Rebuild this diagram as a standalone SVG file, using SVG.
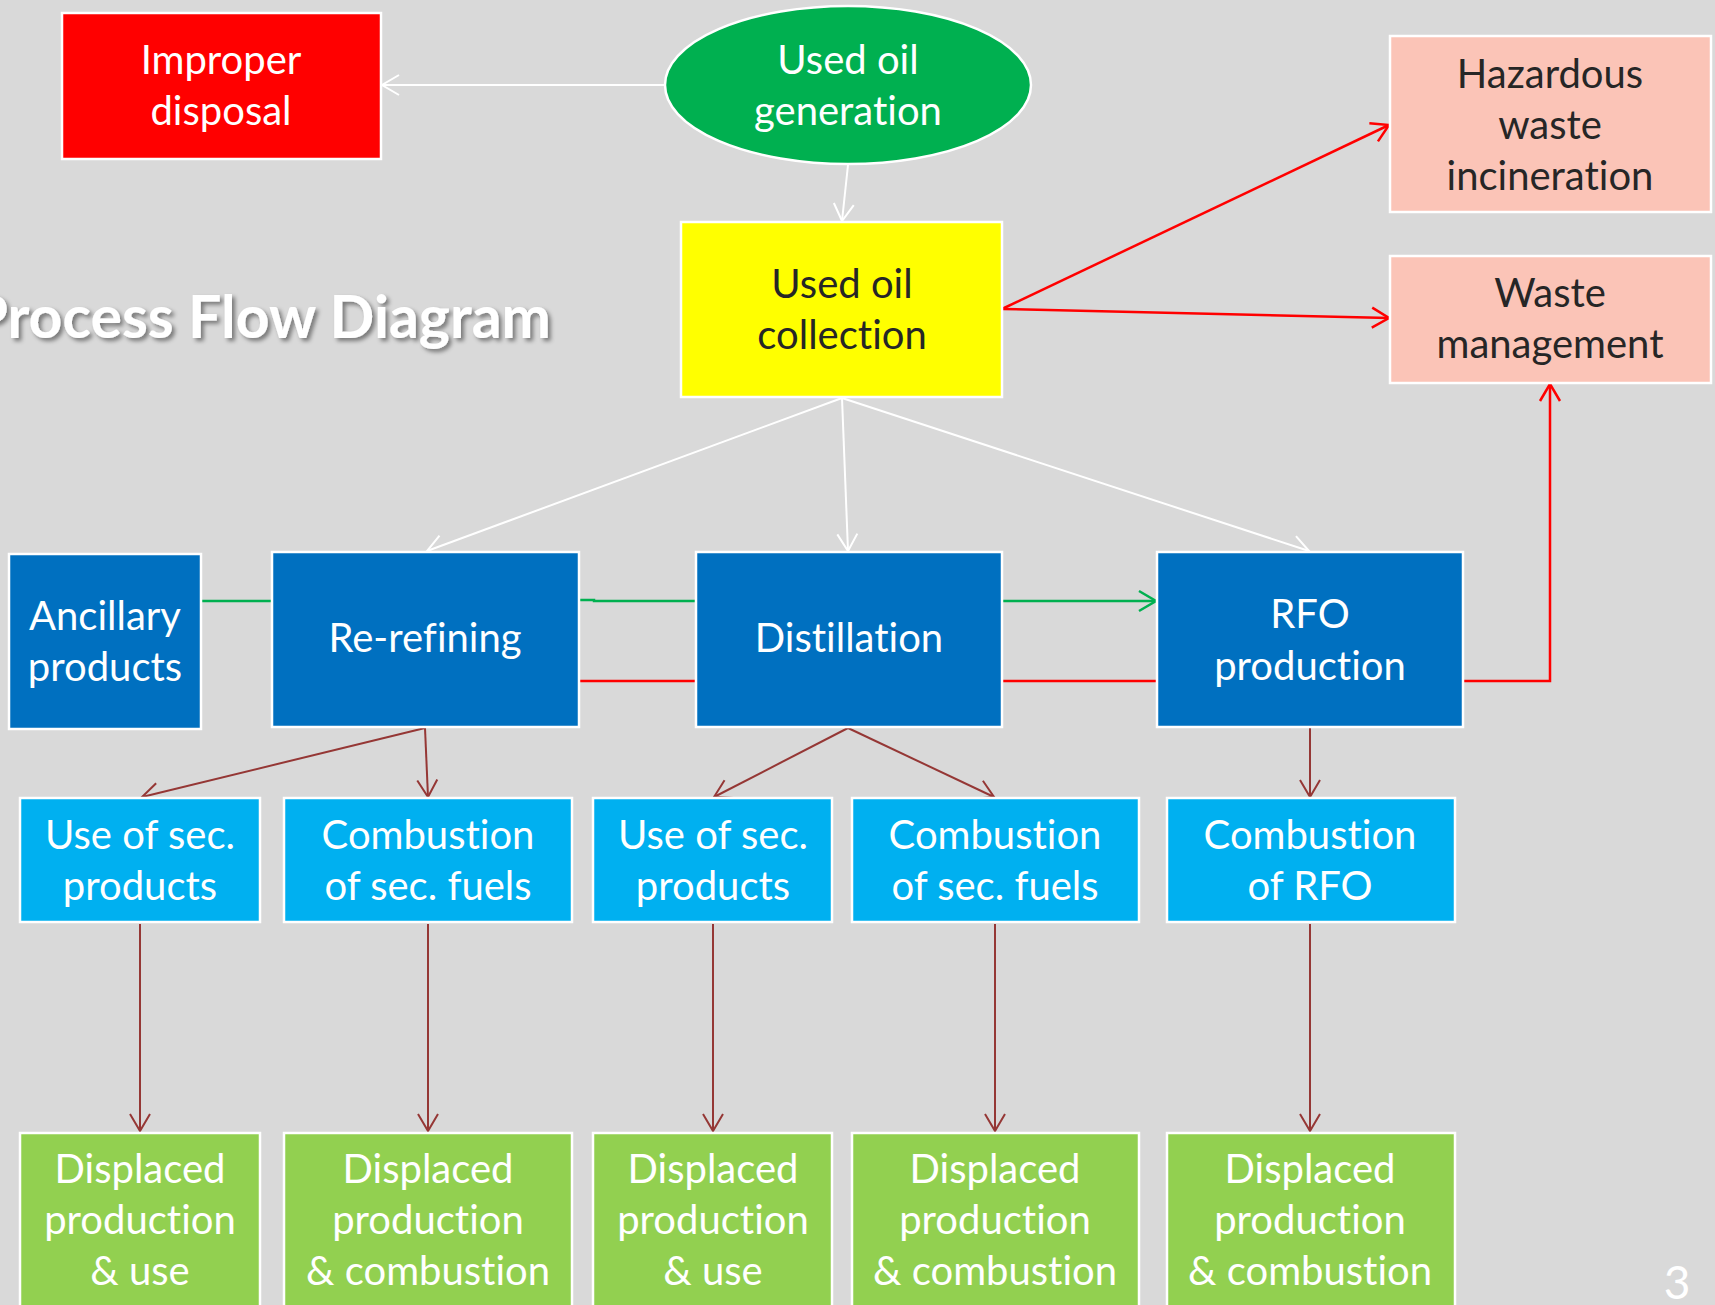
<svg xmlns="http://www.w3.org/2000/svg" width="1715" height="1305" viewBox="0 0 1715 1305">
  <style>
    text { font-variant-ligatures: none; font-feature-settings: "liga" 0, "clig" 0; }
    .lbl { font-family: Lato, "Open Sans", sans-serif; font-size: 40px; text-anchor: middle; fill: #ffffff; }
    .dark { fill: #262626; }
    .box { stroke: #ffffff; stroke-width: 2.5; }
    .title { font-family: Lato, "Open Sans", sans-serif; font-weight: bold; font-size: 59px; fill: #ffffff; }
    .w { stroke: #ffffff; stroke-width: 2; fill: none; }
    .r { stroke: #ff0000; stroke-width: 2.5; fill: none; }
    .g { stroke: #00b050; stroke-width: 2.5; fill: none; }
    .d { stroke: #953735; stroke-width: 2; fill: none; }
  </style>
  <defs>
    <marker id="aw" markerUnits="userSpaceOnUse" markerWidth="40" markerHeight="40" viewBox="-20 -20 40 40" refX="0" refY="0" orient="auto">
      <path d="M-17,-10 L0,0 L-17,10" fill="none" stroke="#ffffff" stroke-width="2"/>
    </marker>
    <marker id="ar" markerUnits="userSpaceOnUse" markerWidth="40" markerHeight="40" viewBox="-20 -20 40 40" refX="0" refY="0" orient="auto">
      <path d="M-17,-10 L0,0 L-17,10" fill="none" stroke="#ff0000" stroke-width="2.5"/>
    </marker>
    <marker id="ag" markerUnits="userSpaceOnUse" markerWidth="40" markerHeight="40" viewBox="-20 -20 40 40" refX="0" refY="0" orient="auto">
      <path d="M-17,-10 L0,0 L-17,10" fill="none" stroke="#00b050" stroke-width="2.5"/>
    </marker>
    <marker id="ad" markerUnits="userSpaceOnUse" markerWidth="40" markerHeight="40" viewBox="-20 -20 40 40" refX="0" refY="0" orient="auto">
      <path d="M-17,-10 L0,0 L-17,10" fill="none" stroke="#953735" stroke-width="2"/>
    </marker>
    <filter id="shadow" x="-10%" y="-20%" width="120%" height="150%">
      <feDropShadow dx="3" dy="3" stdDeviation="2" flood-color="#000000" flood-opacity="0.45"/>
    </filter>
  </defs>

  <!-- background -->
  <rect x="0" y="0" width="1715" height="1305" fill="#d9d9d9"/>

  <!-- slide title, running off the left edge -->
  <text class="title" x="551" y="338" text-anchor="end" filter="url(#shadow)">Process Flow Diagram</text>

  <!-- connectors -->
  <g id="connectors">
    <line class="w" x1="665" y1="85" x2="382" y2="85" marker-end="url(#aw)"/>
    <line class="w" x1="848" y1="165" x2="842" y2="221" marker-end="url(#aw)"/>
    <line class="r" x1="1002" y1="309" x2="1389" y2="125" marker-end="url(#ar)"/>
    <line class="r" x1="1002" y1="309" x2="1389" y2="318" marker-end="url(#ar)"/>
    <line class="w" x1="842" y1="398" x2="427" y2="551" marker-end="url(#aw)"/>
    <line class="w" x1="842" y1="398" x2="848" y2="551" marker-end="url(#aw)"/>
    <line class="w" x1="842" y1="398" x2="1309" y2="551" marker-end="url(#aw)"/>
    <line class="g" x1="201" y1="601" x2="272" y2="601"/>
    <polyline class="g" points="579,600 594,600 594,601 696,601"/>
    <line class="g" x1="1002" y1="601" x2="1156" y2="601" marker-end="url(#ag)"/>
    <line class="r" x1="579" y1="681" x2="696" y2="681"/>
    <line class="r" x1="1002" y1="681" x2="1157" y2="681"/>
    <polyline class="r" points="1463,681 1550,681 1550,384" marker-end="url(#ar)"/>
    <line class="d" x1="425" y1="728" x2="142" y2="797" marker-end="url(#ad)"/>
    <line class="d" x1="425" y1="728" x2="428" y2="797" marker-end="url(#ad)"/>
    <line class="d" x1="848" y1="728" x2="714" y2="797" marker-end="url(#ad)"/>
    <line class="d" x1="848" y1="728" x2="994" y2="797" marker-end="url(#ad)"/>
    <line class="d" x1="1310" y1="728" x2="1310" y2="797" marker-end="url(#ad)"/>
    <line class="d" x1="140" y1="924" x2="140" y2="1131" marker-end="url(#ad)"/>
    <line class="d" x1="428" y1="924" x2="428" y2="1131" marker-end="url(#ad)"/>
    <line class="d" x1="713" y1="924" x2="713" y2="1131" marker-end="url(#ad)"/>
    <line class="d" x1="995" y1="924" x2="995" y2="1131" marker-end="url(#ad)"/>
    <line class="d" x1="1310" y1="924" x2="1310" y2="1131" marker-end="url(#ad)"/>
  </g>

  <!-- top row -->
  <g id="improper-disposal">
    <rect class="box" x="62" y="13" width="319" height="146" fill="#ff0000"/>
    <text class="lbl" x="221" y="74">Improper</text>
    <text class="lbl" x="221" y="125">disposal</text>
  </g>
  <g id="used-oil-generation">
    <ellipse class="box" cx="848" cy="85" rx="183" ry="79" fill="#00b050"/>
    <text class="lbl" x="848" y="74">Used oil</text>
    <text class="lbl" x="848" y="125">generation</text>
  </g>
  <g id="used-oil-collection">
    <rect class="box" x="681" y="222" width="321" height="175" fill="#ffff00"/>
    <text class="lbl dark" x="842" y="298">Used oil</text>
    <text class="lbl dark" x="842" y="349">collection</text>
  </g>
  <g id="hazardous-waste-incineration">
    <rect class="box" x="1390" y="36" width="321" height="176" fill="#fbc4b7"/>
    <text class="lbl dark" x="1550" y="88">Hazardous</text>
    <text class="lbl dark" x="1550" y="139">waste</text>
    <text class="lbl dark" x="1550" y="190">incineration</text>
  </g>
  <g id="waste-management">
    <rect class="box" x="1390" y="256" width="321" height="127" fill="#fbc4b7"/>
    <text class="lbl dark" x="1550" y="307">Waste</text>
    <text class="lbl dark" x="1550" y="358">management</text>
  </g>

  <!-- process row -->
  <g id="ancillary-products">
    <rect class="box" x="9" y="554" width="192" height="175" fill="#0070c0"/>
    <text class="lbl" x="105" y="630">Ancillary</text>
    <text class="lbl" x="105" y="681">products</text>
  </g>
  <g id="re-refining">
    <rect class="box" x="272" y="552" width="307" height="175" fill="#0070c0"/>
    <text class="lbl" x="425" y="652">Re-refining</text>
  </g>
  <g id="distillation">
    <rect class="box" x="696" y="552" width="306" height="175" fill="#0070c0"/>
    <text class="lbl" x="849" y="652">Distillation</text>
  </g>
  <g id="rfo-production">
    <rect class="box" x="1157" y="552" width="306" height="175" fill="#0070c0"/>
    <text class="lbl" x="1310" y="628">RFO</text>
    <text class="lbl" x="1310" y="680">production</text>
  </g>

  <!-- use / combustion row -->
  <g id="use-sec-products-1">
    <rect class="box" x="20" y="798" width="240" height="124" fill="#00b0f0"/>
    <text class="lbl" x="140" y="849">Use of sec.</text>
    <text class="lbl" x="140" y="900">products</text>
  </g>
  <g id="combustion-sec-fuels-1">
    <rect class="box" x="284" y="798" width="288" height="124" fill="#00b0f0"/>
    <text class="lbl" x="428" y="849">Combustion</text>
    <text class="lbl" x="428" y="900">of sec. fuels</text>
  </g>
  <g id="use-sec-products-2">
    <rect class="box" x="593" y="798" width="239" height="124" fill="#00b0f0"/>
    <text class="lbl" x="713" y="849">Use of sec.</text>
    <text class="lbl" x="713" y="900">products</text>
  </g>
  <g id="combustion-sec-fuels-2">
    <rect class="box" x="852" y="798" width="287" height="124" fill="#00b0f0"/>
    <text class="lbl" x="995" y="849">Combustion</text>
    <text class="lbl" x="995" y="900">of sec. fuels</text>
  </g>
  <g id="combustion-rfo">
    <rect class="box" x="1167" y="798" width="288" height="124" fill="#00b0f0"/>
    <text class="lbl" x="1310" y="849">Combustion</text>
    <text class="lbl" x="1310" y="900">of RFO</text>
  </g>

  <!-- displaced production row -->
  <g id="displaced-1">
    <rect class="box" x="20" y="1133" width="240" height="190" fill="#92d050"/>
    <text class="lbl" x="140" y="1183">Displaced</text>
    <text class="lbl" x="140" y="1234">production</text>
    <text class="lbl" x="140" y="1285">&amp; use</text>
  </g>
  <g id="displaced-2">
    <rect class="box" x="284" y="1133" width="288" height="190" fill="#92d050"/>
    <text class="lbl" x="428" y="1183">Displaced</text>
    <text class="lbl" x="428" y="1234">production</text>
    <text class="lbl" x="428" y="1285">&amp; combustion</text>
  </g>
  <g id="displaced-3">
    <rect class="box" x="593" y="1133" width="239" height="190" fill="#92d050"/>
    <text class="lbl" x="713" y="1183">Displaced</text>
    <text class="lbl" x="713" y="1234">production</text>
    <text class="lbl" x="713" y="1285">&amp; use</text>
  </g>
  <g id="displaced-4">
    <rect class="box" x="852" y="1133" width="287" height="190" fill="#92d050"/>
    <text class="lbl" x="995" y="1183">Displaced</text>
    <text class="lbl" x="995" y="1234">production</text>
    <text class="lbl" x="995" y="1285">&amp; combustion</text>
  </g>
  <g id="displaced-5">
    <rect class="box" x="1167" y="1133" width="288" height="190" fill="#92d050"/>
    <text class="lbl" x="1310" y="1183">Displaced</text>
    <text class="lbl" x="1310" y="1234">production</text>
    <text class="lbl" x="1310" y="1285">&amp; combustion</text>
  </g>

  <!-- slide number -->
  <text x="1677" y="1299" font-family="Lato, 'Open Sans', sans-serif" font-size="46" text-anchor="middle" fill="#ffffff">3</text>
</svg>
